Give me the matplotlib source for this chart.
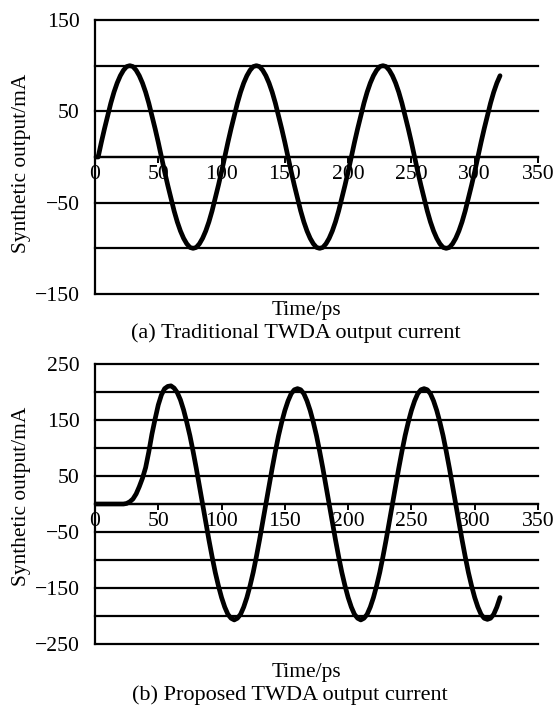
import numpy as np
import matplotlib

matplotlib.use("Agg")
import matplotlib.pyplot as plt

plt.rcParams["font.family"] = ["Liberation Serif", "DejaVu Serif"]
plt.rcParams["axes.unicode_minus"] = True

# sample times, ps (every 2.5 ps from 0 to 320)
time_ps = np.arange(0, 320.1, 2.5)

# (a) traditional TWDA output current, mA
traditional_ma = [
    0,
    0, 16, 31, 45, 59, 71, 81, 89, 95, 99, 100, 99, 95, 89, 81, 71, 59, 45, 31, 16,
    0, -16, -31, -45, -59, -71, -81, -89, -95, -99, -100, -99, -95, -89, -81, -71, -59, -45, -31, -16,
    0, 16, 31, 45, 59, 71, 81, 89, 95, 99, 100, 99, 95, 89, 81, 71, 59, 45, 31, 16,
    0, -16, -31, -45, -59, -71, -81, -89, -95, -99, -100, -99, -95, -89, -81, -71, -59, -45, -31, -16,
    0, 16, 31, 45, 59, 71, 81, 89, 95, 99, 100, 99, 95, 89, 81, 71, 59, 45, 31, 16,
    0, -16, -31, -45, -59, -71, -81, -89, -95, -99, -100, -99, -95, -89, -81, -71, -59, -45, -31, -16,
    0, 16, 31, 45, 59, 71, 81, 89,
]

# (b) proposed TWDA output current, mA
proposed_ma = [
    0, 0, 0, 0, 0, 0, 0, 0, 0, 0,
    1, 4, 9, 18, 31, 46, 65, 93, 125, 152, 177, 195, 206, 210,
    211, 207, 199, 186, 168, 146, 122, 94, 64, 32,
    0, -32, -64, -94, -122, -146, -167, -184, -197, -204, -207, -204, -197, -184, -167, -146, -122, -94, -64, -32,
    0, 32, 64, 94, 122, 146, 167, 184, 197, 204, 206, 204, 197, 184, 167, 146, 122, 94, 64, 32,
    0, -32, -64, -94, -122, -146, -167, -184, -197, -204, -207, -204, -197, -184, -167, -146, -122, -94, -64, -32,
    0, 32, 64, 94, 122, 146, 167, 184, 197, 204, 206, 204, 197, 184, 167, 146, 122, 94, 64, 32,
    0, -32, -64, -94, -122, -146, -167, -184, -197, -204, -206, -204, -197, -184, -167,
]

x_ticks = [0, 50, 100, 150, 200, 250, 300, 350]
top_grid = list(range(-150, 151, 50))
top_labels = [150, 50, -50, -150]
bot_grid = list(range(-250, 251, 50))
bot_labels = [250, 150, 50, -50, -150, -250]

TICK_FS = 15.6
YLAB_FS = 15.4
XLAB_FS = 15.4
CAP_FS = 16


def style_axes(ax, ylim, grid, labelled):
    ax.set_xlim(0, 350)
    ax.set_ylim(*ylim)
    ax.set_axisbelow(True)
    for y in grid:
        ax.axhline(y, color="black", lw=1.6, zorder=0.6, clip_on=False)
    ax.spines["right"].set_visible(False)
    ax.spines["top"].set_visible(False)
    ax.spines["left"].set_linewidth(1.6)
    ax.spines["bottom"].set_position(("data", 0))
    ax.spines["bottom"].set_linewidth(1.6)
    ax.set_xticks(x_ticks)
    ax.tick_params(axis="x", direction="out", length=4, width=1.4,
                   labelsize=TICK_FS, pad=1.5)
    ax.set_yticks(grid, [f"{v}".replace("-", "\u2212") if v in labelled else ""
                         for v in grid])
    ax.tick_params(axis="y", length=0, labelsize=TICK_FS, pad=11)


fig = plt.figure(figsize=(5.56, 7.05), dpi=100)

ax1 = fig.add_axes([95 / 556, 1 - 294 / 705, 443 / 556, 274 / 705])
ax1.plot(time_ps, traditional_ma, color="black", lw=3.4, zorder=3,
         solid_capstyle="round", solid_joinstyle="round")
style_axes(ax1, (-150, 150), top_grid, top_labels)

ax2 = fig.add_axes([95 / 556, 1 - 644 / 705, 443 / 556, 280 / 705])
ax2.plot(time_ps, proposed_ma, color="black", lw=3.4, zorder=3,
         solid_capstyle="round", solid_joinstyle="round")
style_axes(ax2, (-250, 250), bot_grid, bot_labels)

# axis titles and captions placed as in the figure
fig.text(21.7 / 556, 1 - 163 / 705, "Synthetic output/mA", fontsize=YLAB_FS,
         rotation=90, ha="center", va="center")
fig.text(21.7 / 556, 1 - 496 / 705, "Synthetic output/mA", fontsize=YLAB_FS,
         rotation=90, ha="center", va="center")

fig.text(306 / 556, 1 - 310 / 705, "Time/ps", fontsize=XLAB_FS, ha="center", va="center")
fig.text(131 / 556, 1 - 333 / 705, "(a) Traditional TWDA output current",
         fontsize=CAP_FS, ha="left", va="center")
fig.text(306 / 556, 1 - 672 / 705, "Time/ps", fontsize=XLAB_FS, ha="center", va="center")
fig.text(132 / 556, 1 - 695 / 705, "(b) Proposed TWDA output current",
         fontsize=CAP_FS, ha="left", va="center")

fig.savefig("out.png", dpi=100)
